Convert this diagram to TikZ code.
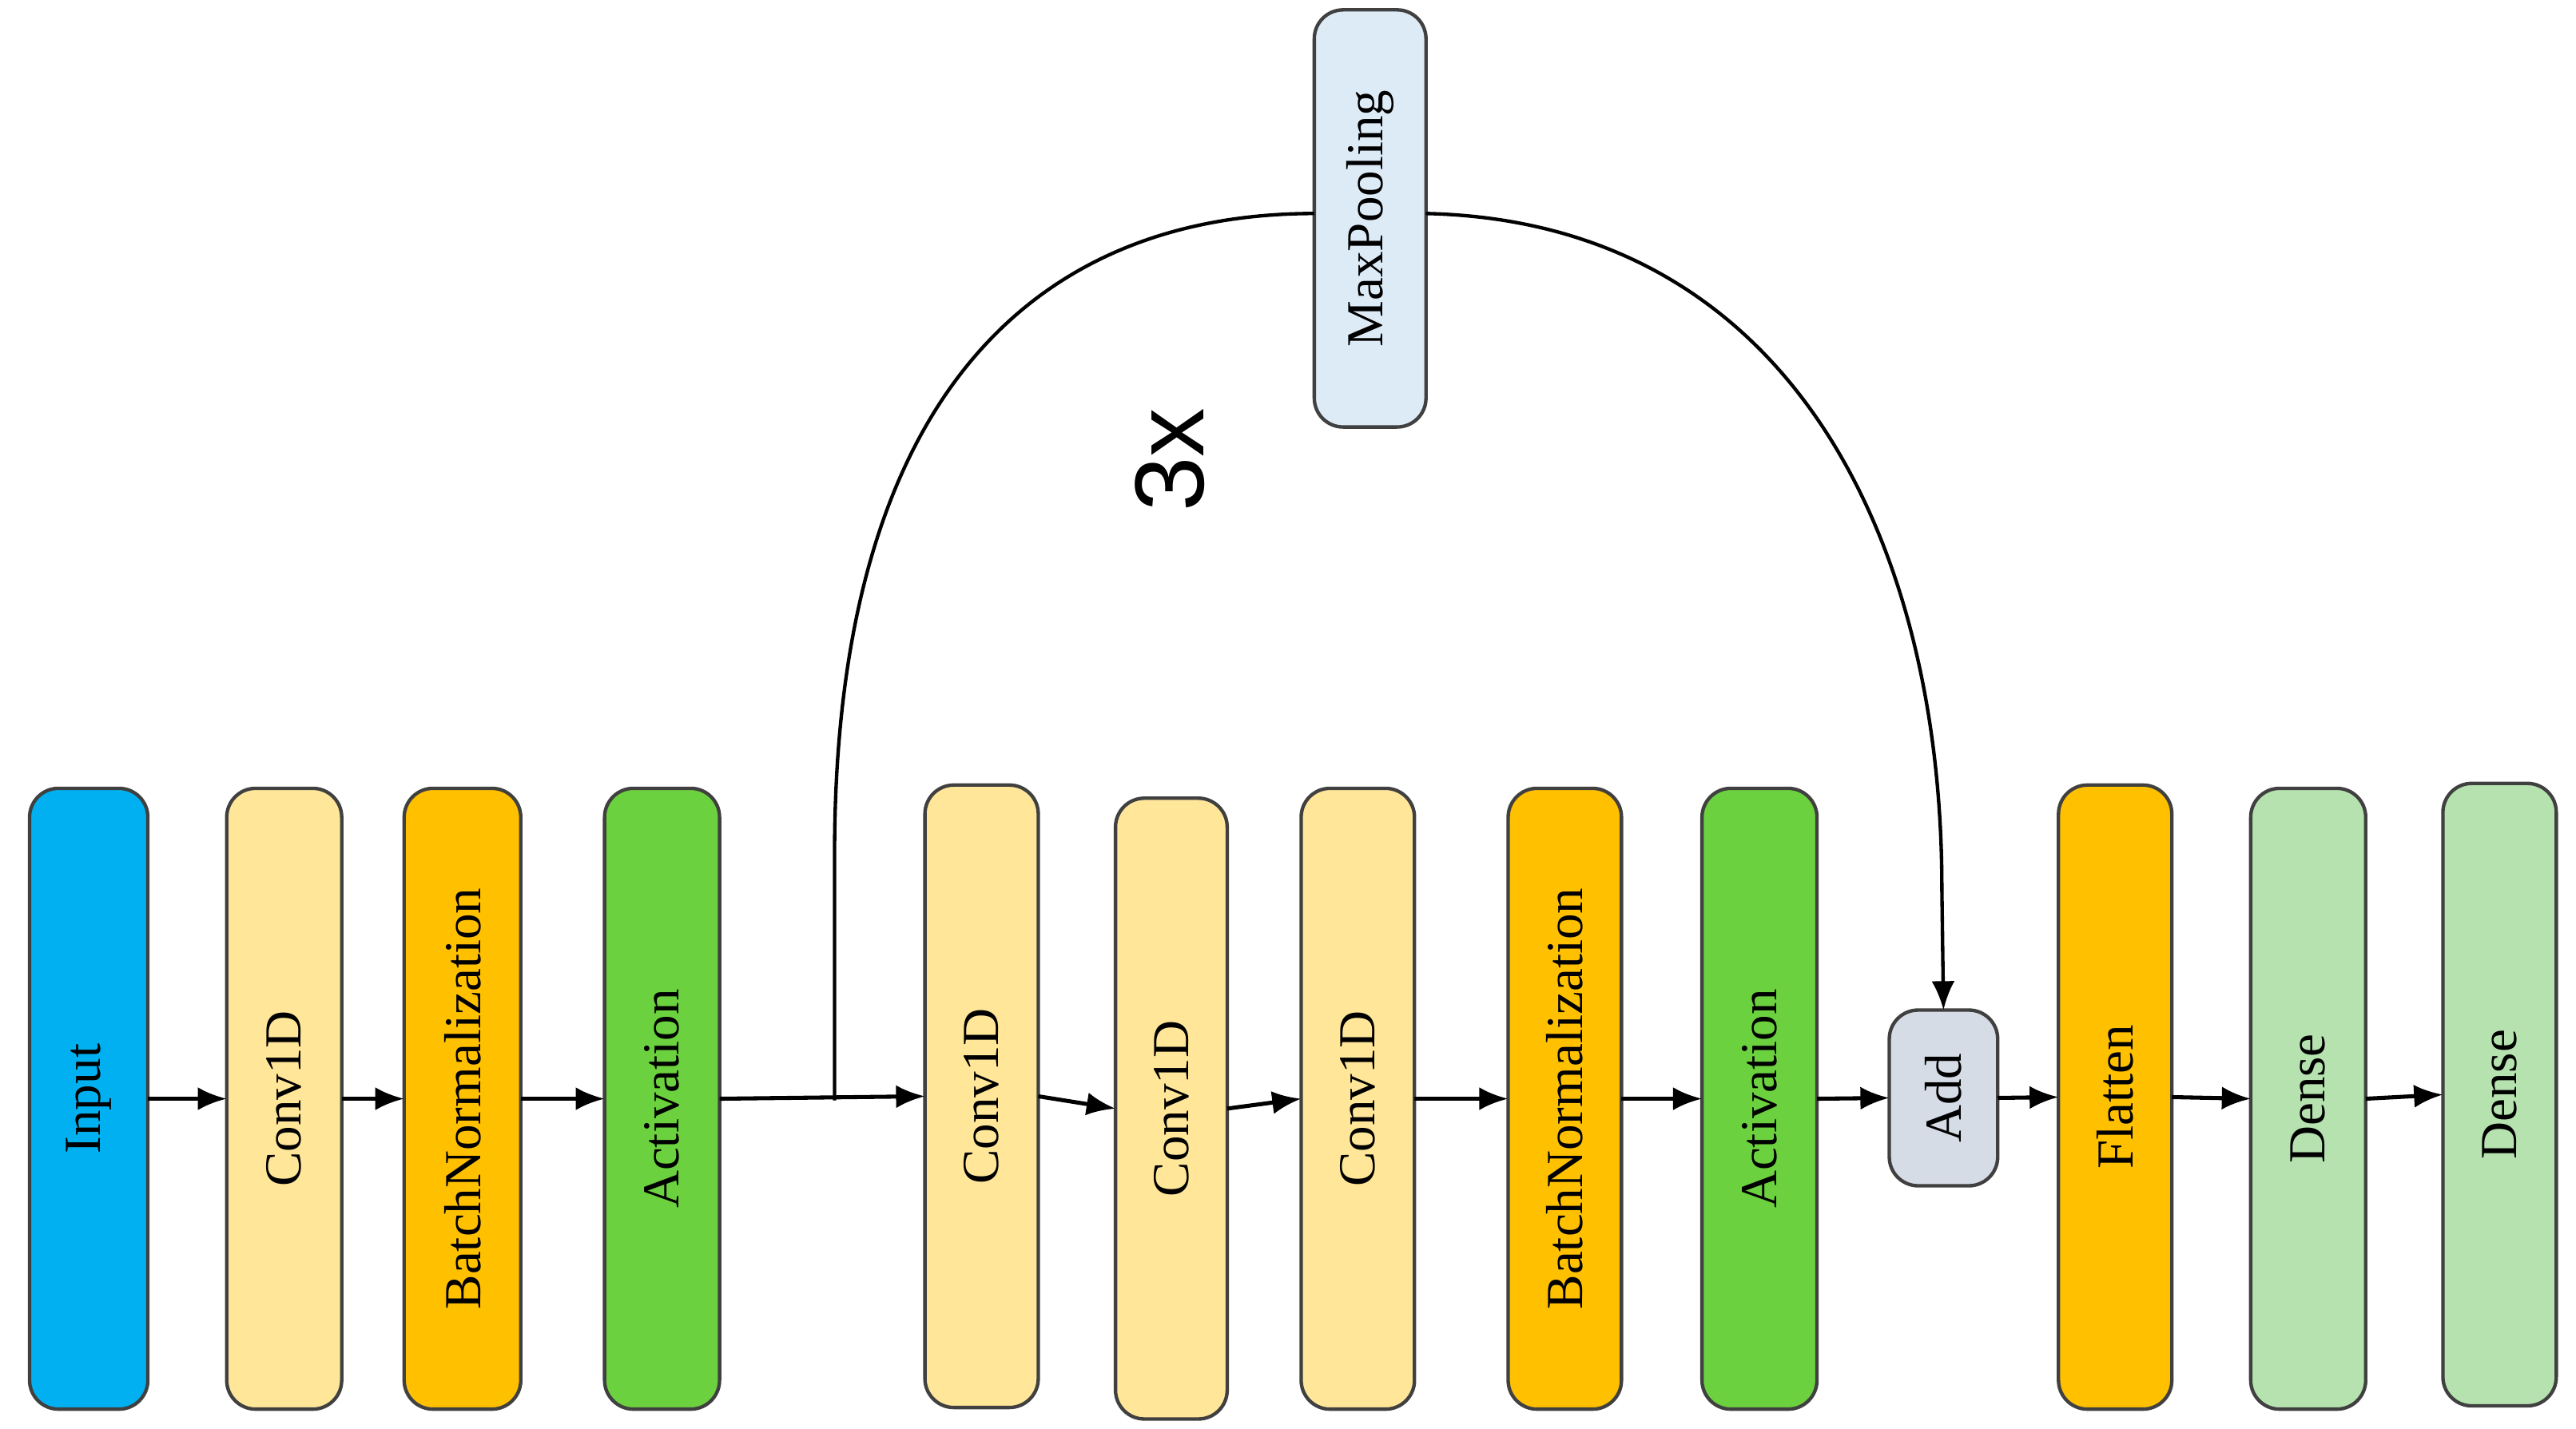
\documentclass[tikz,border=0pt]{standalone}
\usepackage{fontspec}
\setmainfont{Liberation Serif}
\newfontfamily\sansf{Liberation Sans}
\usetikzlibrary{arrows.meta}
\definecolor{cblue}{HTML}{00B0F0}
\definecolor{cconv}{HTML}{FFE699}
\definecolor{cbn}{HTML}{FFC000}
\definecolor{cact}{HTML}{6CD13F}
\definecolor{cadd}{HTML}{D6DCE5}
\definecolor{cdense}{HTML}{B6E2B0}
\definecolor{cmax}{HTML}{DDEBF7}
\begin{document}
\begin{tikzpicture}[x=0.01cm,y=-0.01cm,
  blk/.style={draw=black!75,line width=0.6pt,rounded corners=5pt,inner sep=0pt},
  lbl/.style={rotate=90,font=\fontsize{9}{10}\selectfont},
  arr/.style={-{Latex[length=5pt,width=4pt]},line width=0.7pt}]
\useasboundingbox (0,0) rectangle (1568,870);
\newcommand{\blkat}[6]{%
  \draw[blk,fill=#6] (#2,#3) rectangle (#4,#5);
  \node[lbl] (#1) at ({(#2+#4)/2},{(#3+#5)/2}) {};
  \coordinate (#1w) at (#2,{(#3+#5)/2});
  \coordinate (#1e) at (#4,{(#3+#5)/2});
  \coordinate (#1n) at ({(#2+#4)/2},#3);}
\blkat{in}{18}{480}{90}{858}{cblue}
\blkat{c1}{138}{480}{208}{858}{cconv}
\blkat{b1}{246}{480}{317}{858}{cbn}
\blkat{a1}{368}{480}{438}{858}{cact}
\blkat{c2}{563}{478}{632}{857}{cconv}
\blkat{c3}{679}{486}{747}{864}{cconv}
\blkat{c4}{792}{480}{861}{858}{cconv}
\blkat{b2}{918}{480}{987}{858}{cbn}
\blkat{a2}{1036}{480}{1106}{858}{cact}
\blkat{ad}{1150}{615}{1216}{722}{cadd}
\blkat{fl}{1253}{478}{1322}{858}{cbn}
\blkat{d1}{1370}{480}{1440}{858}{cdense}
\blkat{d2}{1487}{477}{1556}{856}{cdense}
\blkat{mp}{800}{6}{868}{260}{cmax}
\node[lbl] at (in) {Input};
\node[lbl] at (c1) {Conv1D};
\node[lbl] at (b1) {BatchNormalization};
\node[lbl] at (a1) {Activation};
\node[lbl] at (c2) {Conv1D};
\node[lbl] at (c3) {Conv1D};
\node[lbl] at (c4) {Conv1D};
\node[lbl] at (b2) {BatchNormalization};
\node[lbl] at (a2) {Activation};
\node[lbl] at (ad) {Add};
\node[lbl] at (fl) {Flatten};
\node[lbl] at (d1) {Dense};
\node[lbl] at (d2) {Dense};
\node[rotate=90,font=\fontsize{9}{10}\selectfont] at (834,133) {MaxPooling};
\node[rotate=90,font=\sansf\fontsize{17}{18}\selectfont] (three) at (712,280) {3x};
\coordinate (mpw) at (800,130);
\coordinate (mpe) at (868,130);
\coordinate (j) at (508,670);
\draw[arr] (ine) -- (c1w);
\draw[arr] (c1e) -- (b1w);
\draw[arr] (b1e) -- (a1w);
\draw[arr] (a1e) -- (c2w);
\draw[arr] (c2e) -- (c3w);
\draw[arr] (c3e) -- (c4w);
\draw[arr] (c4e) -- (b2w);
\draw[arr] (b2e) -- (a2w);
\draw[arr] (a2e) -- (adw);
\draw[arr] (ade) -- (flw);
\draw[arr] (fle) -- (d1w);
\draw[arr] (d1e) -- (d2w);
\draw[line width=0.6pt] (j) -- (508,520) .. controls (508,230) and (640,130) .. (mpw);
\draw[arr,line width=0.6pt] (mpe) .. controls (1090,135) and (1182,330) .. (1182,540) -- (adn);
\end{tikzpicture}
\end{document}
